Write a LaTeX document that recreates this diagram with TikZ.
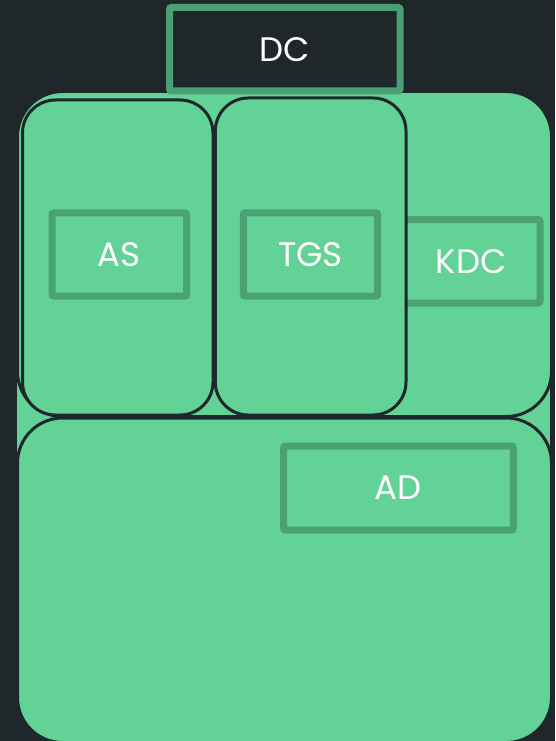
\documentclass[tikz,border=0pt]{standalone}
\usepackage{fontspec}
\setmainfont{Poppins}
\definecolor{bg}{HTML}{20272A}
\definecolor{grn}{HTML}{62D296}
\definecolor{lbl}{HTML}{4AA274}
\definecolor{dcb}{HTML}{4A9F73}
\begin{document}
\begin{tikzpicture}[x=1pt,y=-1pt,
  grp/.style={draw=bg, fill=grn, line width=3pt, rectangle, inner sep=0pt, outer sep=0pt},
  lab/.style={draw=lbl, fill=grn, line width=7pt, rounded corners=2pt, rectangle, text=white,
              font=\fontsize{34}{40}\selectfont, inner sep=0pt, outer sep=0pt,
              execute at begin node={\lower2pt\hbox\bgroup}, execute at end node={\egroup}},
]
\fill[bg] (0,0) rectangle (555,741);
\useasboundingbox (0,0) rectangle (555,741);
% surrounding container, seen only between the two rows
\node[grp, minimum width=536.5pt, minimum height=300pt] (outer) at (283.25,450) {};
% groups
\node[grp, rounded corners=45pt, minimum width=534pt, minimum height=325pt] (row) at (284.5,254) {};
\node[grp, rounded corners=45pt, minimum width=534pt, minimum height=324.5pt] (adgrp) at (284.5,580.25) {};
\node[lab, minimum width=138pt, minimum height=83.5pt] (kdc) at (471,261.25) {KDC};
\node[grp, rounded corners=33pt, minimum width=190.5pt, minimum height=315pt] (ascol) at (117.75,257.5) {};
\node[grp, rounded corners=33pt, minimum width=190.7pt, minimum height=317pt] (tgscol) at (310.65,256.5) {};
% labels
\node[lab, minimum width=134.5pt, minimum height=83.4pt] (as) at (119.25,254.5) {AS};
\node[lab, minimum width=134.3pt, minimum height=83.4pt] (tgs) at (310.45,254.5) {TGS};
\node[lab, minimum width=229.8pt, minimum height=84pt] (ad) at (398.4,488) {AD};
\node[lab, draw=dcb, fill=bg, minimum width=230.5pt, minimum height=83.5pt] (dc) at (284.75,49.25) {DC};
\end{tikzpicture}
\end{document}
